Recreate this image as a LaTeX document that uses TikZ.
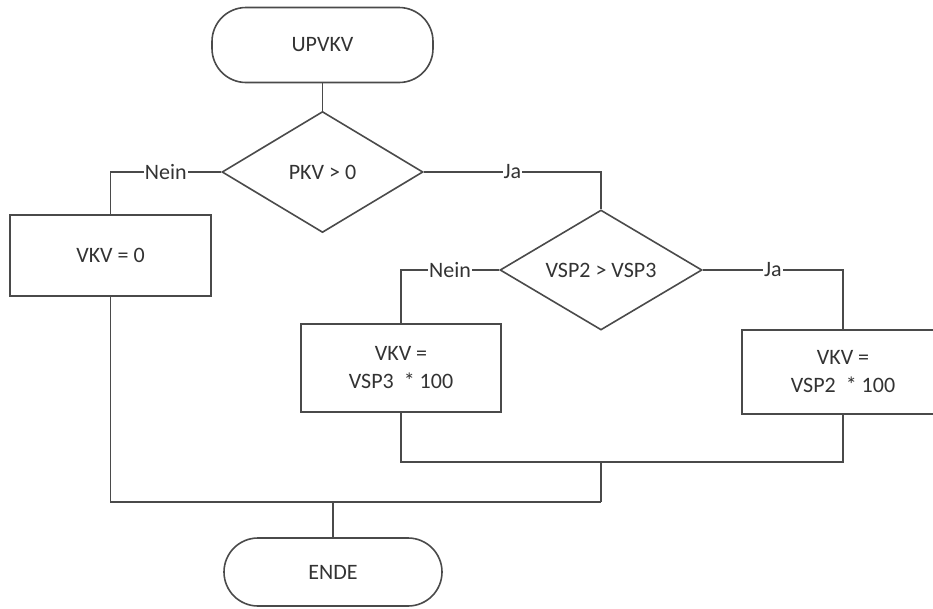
\documentclass[tikz,border=0pt]{standalone}
\usepackage{fontspec}
\setmainfont{Carlito}
\usetikzlibrary{shapes.geometric}
\definecolor{ln}{HTML}{4A4A4A}
\definecolor{tx}{HTML}{333333}
\begin{document}
\begin{tikzpicture}[x=1pt,y=-1pt,
  every node/.style={font=\fontsize{22}{28}\selectfont, text=tx},
  conn/.style={draw=ln, line width=1.6pt},
  term/.style={draw=ln, line width=1.6pt, rectangle, rounded corners=34pt, inner sep=0pt},
  procbox/.style={draw=ln, line width=1.6pt, rectangle, inner sep=0pt, align=center},
  decbox/.style={draw=ln, line width=1.6pt, diamond, inner sep=0pt},
  lab/.style={fill=white, inner sep=1pt}]
\useasboundingbox (0,0) rectangle (933,608);
\clip (0,0) rectangle (933,608);
\fill[white] (0,0) rectangle (933,608);
% shapes
\node[term, minimum width=221pt, minimum height=75pt] (start) at (322.5,45) {UPVKV};
\node[decbox, minimum width=201pt, minimum height=121pt] (d1) at (322.5,172) {};
\node (d1t) at (d1.center) {PKV > 0};
\node[procbox, minimum width=201pt, minimum height=81pt] (b0) at (110.5,255.5) {VKV = 0};
\node[decbox, minimum width=202pt, minimum height=120pt] (d2) at (601,270) {};
\node (d2t) at (d2.center) {VSP2 > VSP3};
\node[procbox, minimum width=200pt, minimum height=88pt] (b3) at (401,368) {VKV =\\VSP3\ \ * 100};
\node[procbox, minimum width=202pt, minimum height=84pt] (b2) at (843,372) {VKV =\\VSP2\ \ * 100};
\node[term, minimum width=218pt, minimum height=68pt] (end) at (333,572) {ENDE};
% junction coordinates
\coordinate (j1) at (601,462);
\coordinate (j2) at (601,502);
\coordinate (j3) at (333,502);
% connectors
\draw[conn] (start.south) -- (d1.north);
\draw[conn] (d1.west) -| (b0.north) node[pos=0.25, lab] {Nein};
\draw[conn] (d1.east) -| (d2.north) node[pos=0.25, lab] {Ja};
\draw[conn] (d2.west) -| (b3.north) node[pos=0.25, lab] {Nein};
\draw[conn] (d2.east) -| (b2.north) node[pos=0.25, lab] {Ja};
\draw[conn] (b3.south) |- (j1) -| (b2.south);
\draw[conn] (j1) -- (j2);
\draw[conn] (b0.south) |- (j2);
\draw[conn] (j3) -- (end.north);
\end{tikzpicture}
\end{document}
